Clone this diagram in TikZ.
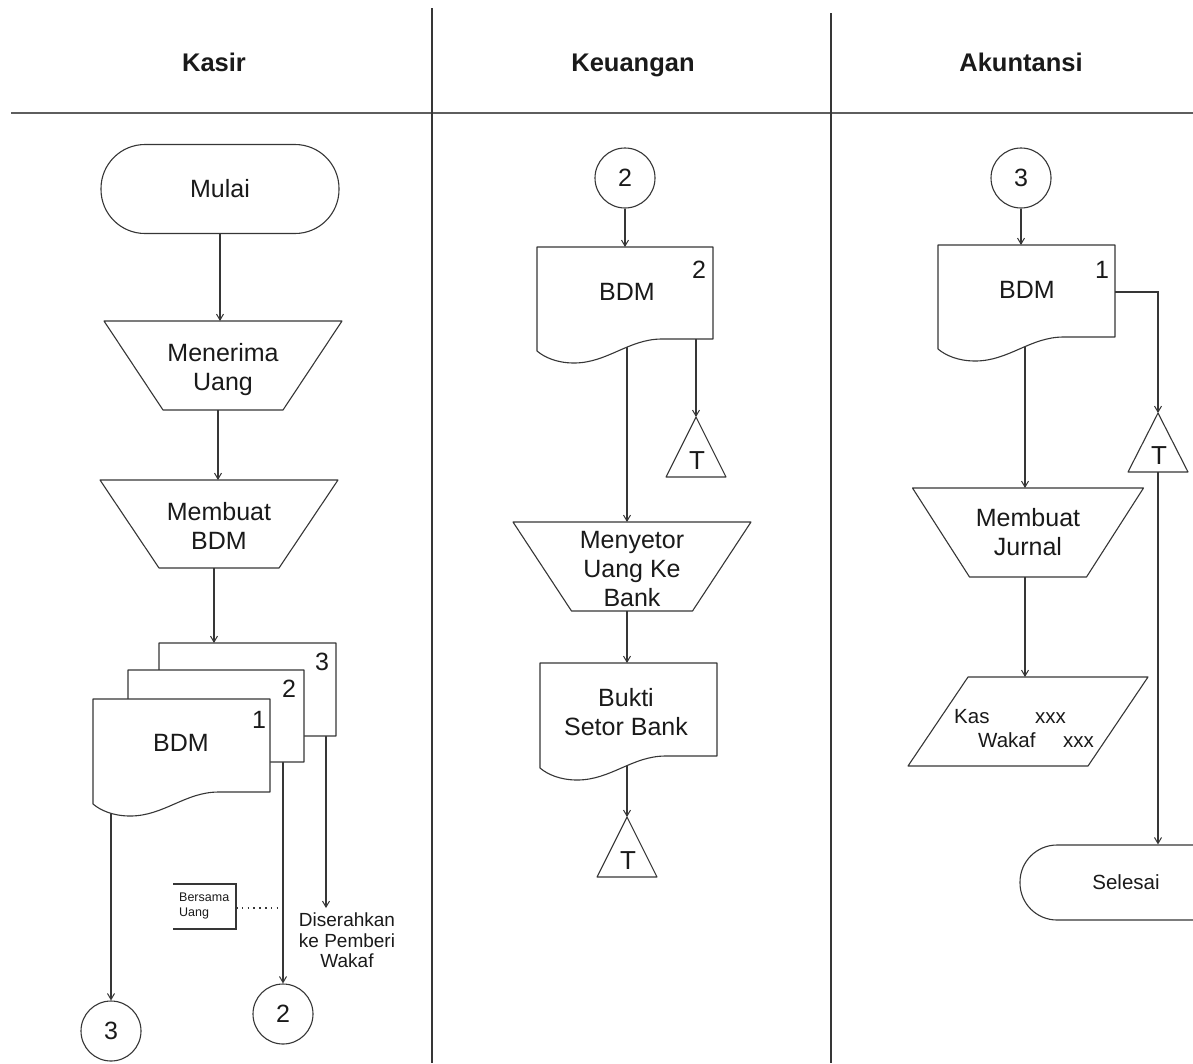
\documentclass[tikz,border=0pt]{standalone}
\usepackage{fontspec}
\setmainfont{Liberation Sans}
\usetikzlibrary{arrows.meta}
\pgfdeclarelayer{bg}
\pgfsetlayers{bg,main}

\definecolor{ink}{HTML}{363636}
\definecolor{txt}{HTML}{1A1A1A}
\definecolor{rule}{HTML}{5E5E5E}

\tikzset{
  ln/.style={draw=ink, line width=1.1pt},
  arr/.style={ln, -{Straight Barb[length=6pt,width=7pt,line width=1pt]}},
  shp/.style={draw=ink, line width=1.1pt, fill=white, line join=round},
  lbl/.style={text=txt, font=\fontsize{25}{29}\selectfont, align=center, inner sep=0pt},
  small/.style={text=txt, font=\fontsize{12.5}{14.5}\selectfont, align=left, inner sep=0pt},
  note/.style={text=txt, font=\fontsize{19}{20.5}\selectfont, align=center, inner sep=0pt},
  jtxt/.style={text=txt, font=\fontsize{20.5}{24}\selectfont, inner sep=0pt, anchor=base west},
  hdr/.style={text=txt, font=\bfseries\fontsize{25.5}{28}\selectfont, inner sep=0pt, anchor=base},
  conn/.style={shp, circle, minimum size=60pt, inner sep=0pt, text=txt, font=\fontsize{25}{28}\selectfont},
  term/.style={shp, rectangle, inner sep=0pt, text=txt},
}

% document symbol: name, left, top, right, bottom of the straight right edge
\newcommand\flowdoc[5]{%
  \draw[shp] (#2,#3) -- (#4,#3) -- (#4,#5)
    -- ({#2+0.71*(#4-#2)},#5)
    .. controls ({#2+0.52*(#4-#2)},#5) and ({#2+0.40*(#4-#2)},{#5+24}) .. ({#2+0.21*(#4-#2)},{#5+24})
    .. controls ({#2+0.11*(#4-#2)},{#5+24}) and ({#2+0.04*(#4-#2)},{#5+18}) .. (#2,{#5+12}) -- cycle;
  \coordinate (#1-n) at ({(#2+#4)/2},#3);
}

% manual operation: name, centre x, top, bottom, top half width, bottom half width, text y, text
\newcommand\flowtrap[8]{%
  \draw[shp] ({#2-#5},#3) -- ({#2+#5},#3) -- ({#2+#6},#4) -- ({#2-#6},#4) -- cycle;
  \coordinate (#1-n) at (#2,#3);
  \coordinate (#1-s) at (#2,#4);
  \node[lbl] (#1) at (#2,#7) {#8};
}

% file store triangle: name, apex x, apex y, base y
\newcommand\flowtri[4]{%
  \draw[shp] (#2,#3) -- ({#2+30},#4) -- ({#2-30},#4) -- cycle;
  \coordinate (#1-n) at (#2,#3);
  \coordinate (#1-s) at (#2,#4);
  \node[lbl, font=\fontsize{26}{28}\selectfont] (#1) at ({#2+1},{#4-16}) {T};
}

\begin{document}
\begin{tikzpicture}[x=1pt,y=-1pt]
\useasboundingbox (0,0) rectangle (1193,1063);
\clip (0,0) rectangle (1193,1063);

% swimlanes
\draw[draw=rule, line width=2.4pt] (11,113) -- (1193,113);
\draw[ln] (432,8) -- (432,1063);
\draw[ln] (831,13) -- (831,1063);
\node[hdr] (hkasir) at (214,71) {Kasir};
\node[hdr] (hkeu) at (633,71) {Keuangan};
\node[hdr] (hakun) at (1021,71) {Akuntansi};

% ---------------- Kasir ----------------
\node[term, minimum width=238pt, minimum height=89pt, rounded corners=44pt,
      font=\fontsize{25}{28}\selectfont] (mulai) at (220,189) {Mulai};
\flowtrap{terima}{223}{321}{410}{119}{60}{369.5}{\fontsize{25}{30}\selectfont Menerima\\Uang}
\flowtrap{buat}{219}{480}{568}{119}{60}{526}{\fontsize{25}{28}\selectfont Membuat\\BDM}

\flowdoc{kd3}{159}{643}{336}{736}
\flowdoc{kd2}{128}{670}{304}{762}
\flowdoc{kd1}{93}{699}{270}{792}
\node[lbl] (kn3) at (322,662) {3};
\node[lbl] (kn2) at (289,689) {2};
\node[lbl] (kn1) at (259,720) {1};
\node[lbl] (kbdm) at (181,743) {BDM};

\node[conn] (kc3) at (111,1031) {3};
\node[conn] (kc2) at (283,1014) {2};

\draw[arr] (mulai.south) -- (mulai.south |- terima-n);
\draw[arr] (terima-s) ++(-5,0) coordinate (ts) -- (ts |- buat-n);
\draw[arr] (buat-s) ++(-5,0) coordinate (bs) -- (bs |- kd3-n);

% bracket note beside the second copy
\draw[ln] (173,884) -- (236,884) -- (236,929) -- (173,929);
\node[small, anchor=west] (bersama) at (179,906) {Bersama\\Uang};
\coordinate (bx) at (236,908);
\coordinate (kgive) at (326,908);
\node[note] (serah) at (347,940.5) {Diserahkan\\ke Pemberi\\Wakaf};

\coordinate (kd1o) at (111,760);
\coordinate (kd2o) at (283,740);
\coordinate (kd3o) at (326,720);
\draw[ln, dash pattern=on 1.6pt off 4.2pt] (bx) -- (bx -| kd2o);

% ---------------- Keuangan ----------------
\node[conn] (uc2) at (625,178) {2};
\flowdoc{ud}{537}{247}{713}{339}
\node[lbl] (un2) at (699,270) {2};
\node[lbl] (ubdm) at (627,292) {BDM};
\flowtri{ut1}{696}{417}{477}
\flowtrap{setor}{632}{522}{611}{119}{60.5}{569.5}{\fontsize{25}{27.5}\selectfont Menyetor\\Uang Ke\\Bank}
\flowdoc{bukti}{540}{663}{717}{756}
\node[lbl] (buktit) at (626,712.5) {Bukti\\Setor Bank};
\flowtri{ut2}{627}{817}{877}

\coordinate (udo) at (627,300);
\coordinate (udr) at (696,339);
\coordinate (bko) at (627,720);
\draw[arr] (uc2.south) -- (uc2.south |- ud-n);
\draw[arr] (udr) -- (ut1-n);
\draw[arr] (setor-s) ++(-5,0) coordinate (ss) -- (ss |- bukti-n);

% ---------------- Akuntansi ----------------
\node[conn] (ac3) at (1021,178) {3};
\flowdoc{ad}{938}{245}{1115}{337}
\node[lbl] (an1) at (1102,270) {1};
\node[lbl] (abdm) at (1027,290) {BDM};
\flowtri{at1}{1158}{413}{472}
\flowtrap{jurnal}{1028}{488}{577}{115.5}{58.5}{532.5}{Membuat\\Jurnal}

\draw[shp] (968,677) -- (1148,677) -- (1088,766) -- (908,766) -- cycle;
\coordinate (jn) at (1025,677);
\node[jtxt] (kas) at (954,723) {Kas};
\node[jtxt] (kasv) at (1035,723) {xxx};
\node[jtxt] (wakaf) at (978,747) {Wakaf};
\node[jtxt] (wakafv) at (1063,747) {xxx};

\node[term, minimum width=212pt, minimum height=75pt, rounded corners=37pt,
      font=\fontsize{20.5}{24}\selectfont] (selesai) at (1126,882.5) {Selesai};

\coordinate (ado) at (1025,300);
\coordinate (adr) at (1115,292);
\draw[arr] (ac3.south) -- (ac3.south |- ad-n);
\draw[arr] (adr) -- (adr -| at1-n) -- (at1-n);
\draw[arr] (jurnal-s) ++(-3,0) coordinate (js) -- (js |- jn);
\draw[arr] (at1-s) -- (at1-s |- selesai.north);

% connectors that leave a document from behind it
\begin{pgfonlayer}{bg}
  \draw[arr] (kd1o) -- (kd1o |- kc3.north);
  \draw[arr] (kd2o) -- (kd2o |- kc2.north);
  \draw[arr] (kd3o) -- (kgive);
  \draw[arr] (udo) -- (udo |- setor-n);
  \draw[arr] (bko) -- (ut2-n);
  \draw[arr] (ado) -- (ado |- jurnal-n);
\end{pgfonlayer}
\end{tikzpicture}
\end{document}
